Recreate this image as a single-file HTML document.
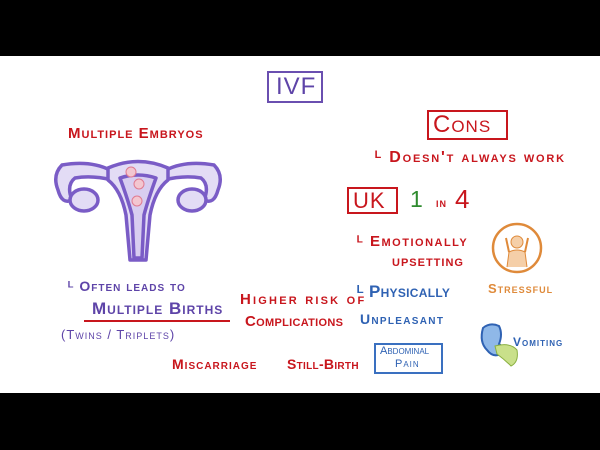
<!DOCTYPE html>
<html><head><meta charset="utf-8"><style>
html,body{margin:0;padding:0;}
body{width:600px;height:450px;background:#000;position:relative;overflow:hidden;font-family:"Liberation Sans",sans-serif;}
#w{position:absolute;left:0;top:56px;width:600px;height:337px;background:#fff;}
.t{position:absolute;white-space:nowrap;font-variant:small-caps;font-weight:bold;letter-spacing:1px;line-height:1;}
.r{color:#c8161d}.p{color:#5e44a8}.b{color:#2f62b3}.o{color:#df8a3a}
.box{position:absolute;border:2px solid;box-sizing:border-box;}
</style></head><body>
<div id="w"></div>
<div class="box" style="left:267px;top:71px;width:56px;height:32px;border-color:#6a4fb0"></div>
<div class="t p" style="left:276px;top:75px;font-size:24px;font-weight:normal;">IVF</div>
<div class="t r" style="left:68px;top:126px;font-size:15px;">Multiple Embryos</div>
<svg style="position:absolute;left:50px;top:152px" width="176" height="115" viewBox="50 152 176 115">
<g fill="#e3dcf5" stroke="#7a5cc6" stroke-width="3.5" stroke-linejoin="round">
<path d="M110 170 Q90 160 62 165 Q52 175 58 190 Q62 205 72 200 Q66 185 75 178 Q92 175 112 180 Z"/>
<path d="M166 170 Q186 160 214 165 Q224 175 218 190 Q214 205 204 200 Q210 185 201 178 Q184 175 164 180 Z"/>
<ellipse cx="84" cy="200" rx="14" ry="11"/>
<ellipse cx="192" cy="200" rx="14" ry="11"/>
<path d="M108 168 Q138 155 168 168 L168 180 Q155 190 150 215 L146 260 L130 260 L126 215 Q121 190 108 180 Z"/>
<path d="M120 178 Q138 172 156 178 Q148 200 144 215 L142 258 L134 258 L132 215 Q128 200 120 178 Z" fill="#d8cdf0"/>
</g>
<g fill="#f3c6d0" stroke="#e07a90" stroke-width="1"><circle cx="131" cy="172" r="5"/><circle cx="139" cy="184" r="5"/><circle cx="137" cy="201" r="5"/></g>
</svg>
<div class="t p" style="left:68px;top:279px;font-size:14px;">ᴸ Often leads to</div>
<div class="t p" style="left:92px;top:300px;font-size:17px;">Multiple Births</div>
<div style="position:absolute;left:84px;top:320px;width:146px;height:2px;background:#c8161d"></div>
<div class="t p" style="left:61px;top:328px;font-size:13px;font-weight:normal;">(Twins / Triplets)</div>
<div class="t r" style="left:240px;top:292px;font-size:15px;letter-spacing:2.2px;">Higher risk of</div>
<div class="t r" style="left:245px;top:314px;font-size:15px;letter-spacing:0.3px;">Complications</div>
<div class="t r" style="left:172px;top:357px;font-size:14px;">Miscarriage</div>
<div class="t r" style="left:287px;top:357px;font-size:14px;letter-spacing:0.3px;">Still-Birth</div>
<div class="box" style="left:427px;top:110px;width:81px;height:30px;border-color:#c8161d"></div>
<div class="t r" style="left:433px;top:113px;font-size:24px;font-weight:normal;">Cons</div>
<div class="t r" style="left:375px;top:150px;font-size:16px;letter-spacing:1.8px;">ᴸ Doesn't always work</div>
<div class="box" style="left:347px;top:187px;width:51px;height:27px;border-color:#c8161d"></div>
<div class="t r" style="left:353px;top:190px;font-size:22px;font-weight:normal;">UK</div>
<div class="t" style="left:410px;top:188px;font-size:23px;color:#2e8b2e;font-weight:normal;">1</div>
<div class="t r" style="left:436px;top:196px;font-size:13px;">in</div>
<div class="t r" style="left:455px;top:186px;font-size:26px;font-weight:normal;">4</div>
<div class="t r" style="left:357px;top:234px;font-size:15px;letter-spacing:1.5px;">ᴸ Emotionally</div>
<div class="t r" style="left:392px;top:254px;font-size:15px;">upsetting</div>
<svg style="position:absolute;left:490px;top:222px" width="60" height="56"><circle cx="27" cy="26" r="24" fill="#fff" stroke="#df8a3a" stroke-width="2.5"/><circle cx="27" cy="20" r="6" fill="#f5cfa8" stroke="#df8a3a"/><path d="M17 45 L19 30 Q27 26 35 30 L37 45" fill="#f5cfa8" stroke="#df8a3a"/><path d="M19 30 L16 16 M35 30 L38 16" stroke="#df8a3a" stroke-width="2"/></svg>
<div class="t o" style="left:488px;top:282px;font-size:13px;">Stressful</div>
<div class="t b" style="left:357px;top:283px;font-size:17px;letter-spacing:0.3px;">ᴸ Physically</div>
<div class="t b" style="left:360px;top:312px;font-size:14px;letter-spacing:1.3px;">Unpleasant</div>
<div class="box" style="left:374px;top:343px;width:69px;height:31px;border-color:#3a70c0"></div>
<div class="t b" style="left:380px;top:346px;font-size:11px;font-weight:normal;letter-spacing:0;">Abdominal</div>
<div class="t b" style="left:395px;top:359px;font-size:11px;font-weight:normal;">Pain</div>
<svg style="position:absolute;left:475px;top:320px" width="50" height="52"><path d="M8 8 Q15 2 24 6 Q28 14 24 24 Q30 28 26 34 Q18 38 12 30 Q4 22 8 8Z" fill="#8fb8e8" stroke="#2f62b3" stroke-width="2"/><path d="M20 26 Q35 22 42 30 Q44 42 36 46 Q30 40 22 34Z" fill="#c9e08a" stroke="#8ab040"/></svg>
<div class="t b" style="left:513px;top:336px;font-size:12px;">Vomiting</div>
</body></html>
